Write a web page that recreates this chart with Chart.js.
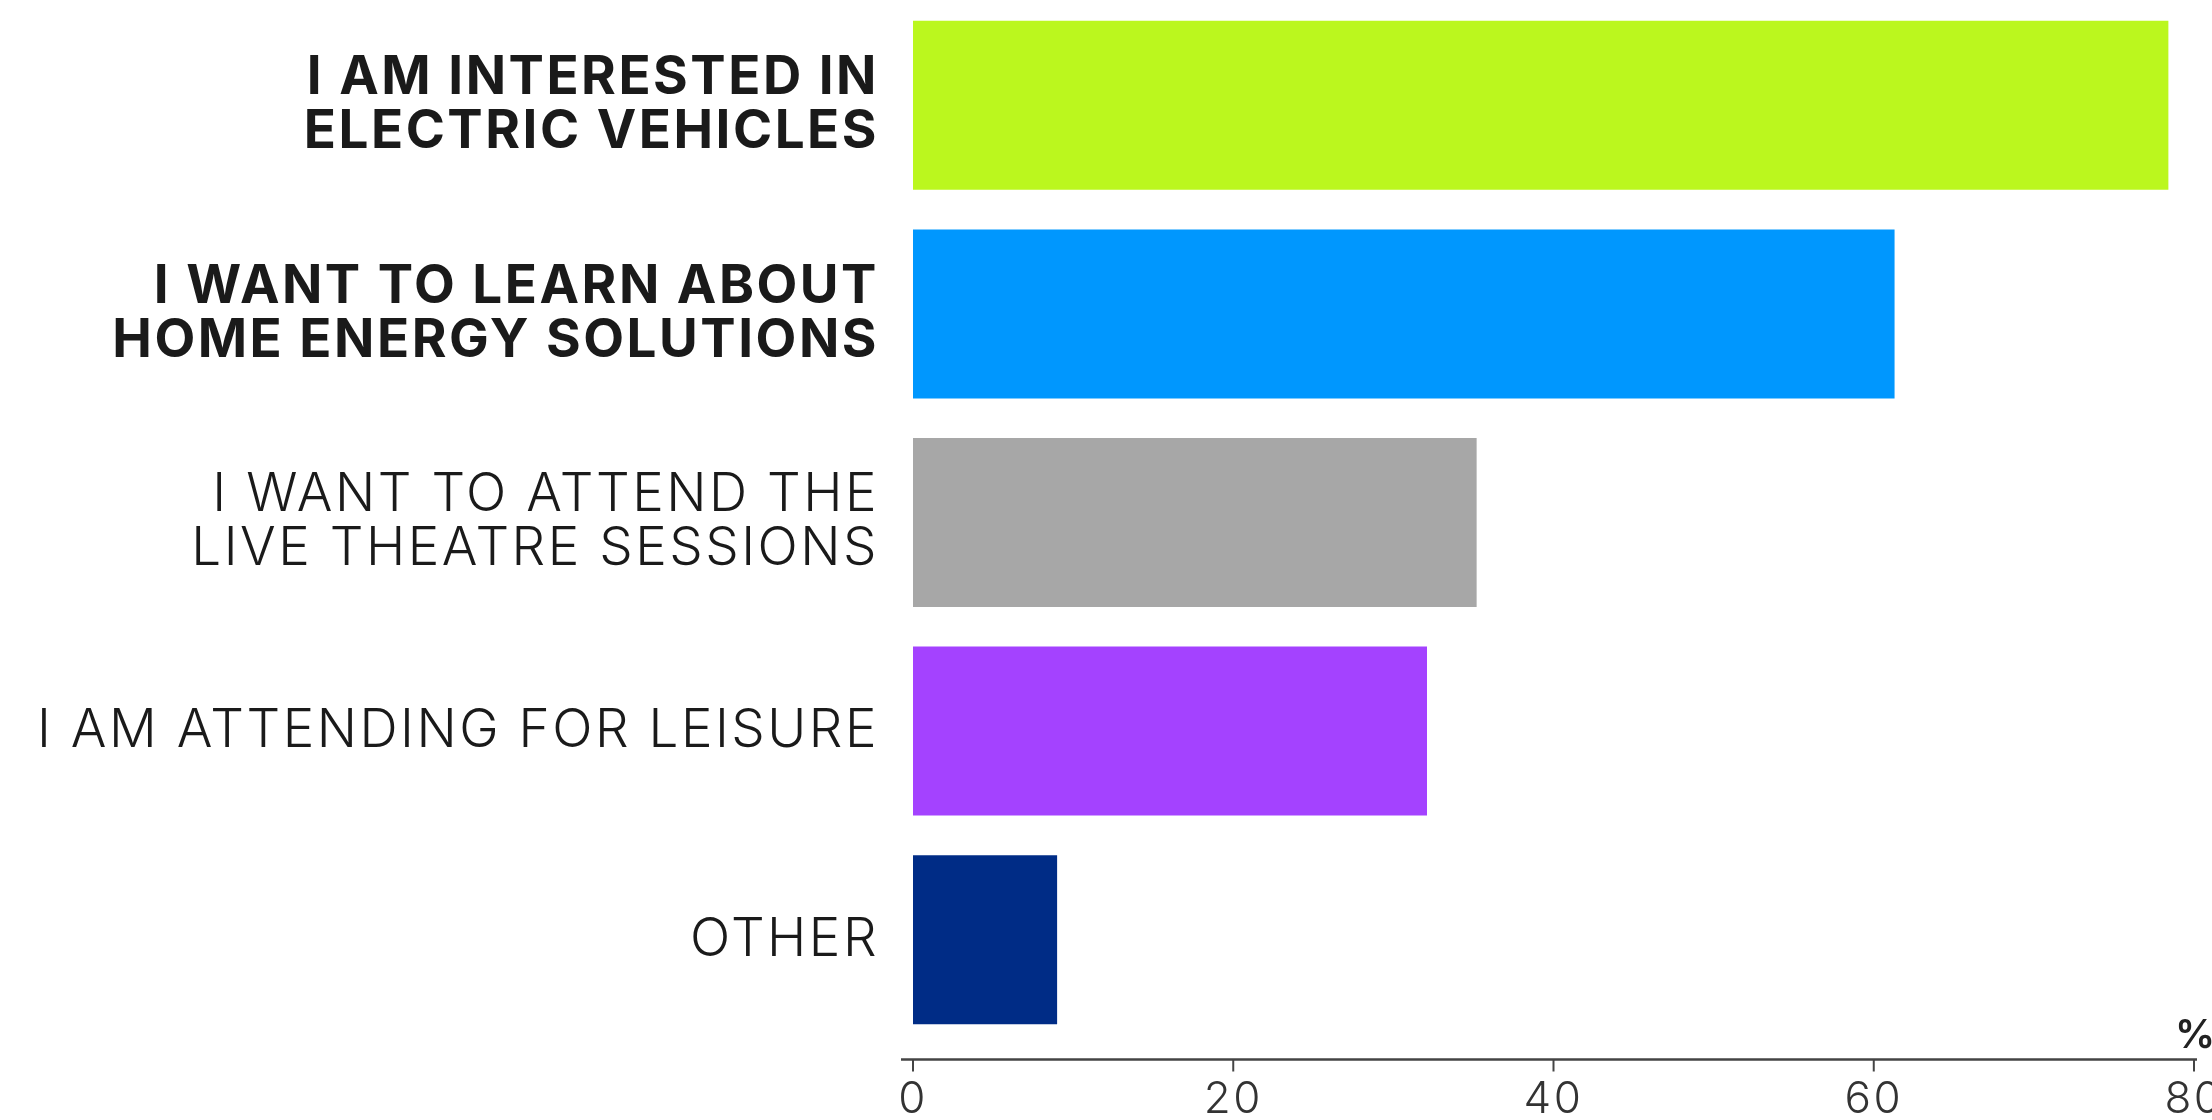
<!DOCTYPE html>
<html>
<head>
<meta charset="utf-8">
<script src="https://cdn.jsdelivr.net/npm/chart.js@4.4.1/dist/chart.umd.min.js"></script>
<style>
  html, body { margin: 0; padding: 0; background: #ffffff; }
  #wrap { width: 2212px; height: 1120px; position: relative; }
</style>
</head>
<body>
<div id="wrap"><canvas id="myChart"></canvas></div>
<script>
// reasons for attending, top to bottom
const categories = [
    ['I AM INTERESTED IN', 'ELECTRIC VEHICLES'],
    ['I WANT TO LEARN ABOUT', 'HOME ENERGY SOLUTIONS'],
    ['I WANT TO ATTEND THE', 'LIVE THEATRE SESSIONS'],
    'I AM ATTENDING FOR LEISURE',
    'OTHER'
]
const percentages = [78.4, 61.3, 35.2, 32.1, 9.0]
const barColours = ['#bbf71e', '#0097fe', '#a7a7a7', '#a442ff', '#002c86']
const boldRows = [true, true, false, false, false]
const xMin = 0
const xMax = 80
const xStep = 20

const fontName = 'Inter, "Open Sans", sans-serif'

// wider letters, the original font is a wide one
const spacing = {
    id: 'spacing',
    beforeLayout(chart) { chart.ctx.letterSpacing = '2.5px' },
    beforeDraw(chart) { chart.ctx.letterSpacing = '2.5px' }
}

// axis line sits a little below the last bar, like the original
const axisLine = {
    id: 'axisLine',
    afterDraw(chart) {
        const ctx = chart.ctx
        const x = chart.scales.x
        const y0 = chart.chartArea.bottom + 15.5
        ctx.save()
        ctx.strokeStyle = '#444'
        ctx.lineWidth = 2.5
        ctx.beginPath()
        ctx.moveTo(x.left - 12, y0)
        ctx.lineTo(x.right + 3, y0)
        ctx.stroke()
        ctx.lineWidth = 2
        x.ticks.forEach((t) => {
            const px = x.getPixelForValue(t.value)
            ctx.beginPath()
            ctx.moveTo(px, y0)
            ctx.lineTo(px, y0 + 12)
            ctx.stroke()
        })
        ctx.letterSpacing = '0px'
        ctx.fillStyle = '#222'
        ctx.font = '600 40px ' + fontName
        ctx.textAlign = 'center'
        ctx.textBaseline = 'alphabetic'
        ctx.fillText('%', x.right + 1, y0 - 12)
        ctx.restore()
    }
}

const data = {
    labels: categories,
    datasets: [{
        label: '%',
        data: percentages,
        backgroundColor: barColours,
        borderWidth: 0,
        barPercentage: 0.81,
        categoryPercentage: 1
    }]
}

const config = {
    type: 'bar',
    data: data,
    options: {
        indexAxis: 'y',
        responsive: true,
        maintainAspectRatio: false,
        animation: false,
        layout: { padding: { top: 1, right: 18, left: 0, bottom: 0 } },
        plugins: {
            legend: { display: false },
            tooltip: { enabled: false }
        },
        scales: {
            x: {
                min: xMin,
                max: xMax,
                grid: { display: false },
                border: { display: false },
                ticks: {
                    stepSize: xStep,
                    color: '#333',
                    padding: 21,
                    font: { family: fontName, size: 44, weight: '300' }
                },
                afterFit(scale) {
                    scale.height = 76
                    scale.paddingLeft = 0
                    scale.paddingRight = 0
                }
            },
            y: {
                grid: { display: false },
                border: { display: false },
                ticks: {
                    color: '#1a1a1a',
                    padding: 26,
                    font: (c) => ({
                        family: fontName,
                        size: 53,
                        lineHeight: 1.02,
                        weight: boldRows[c.index] ? '700' : '300'
                    })
                },
                afterFit(scale) {
                    scale.width = 913
                    scale.paddingTop = 0
                    scale.paddingBottom = 0
                }
            }
        }
    },
    plugins: [spacing, axisLine]
}

const ctx = document.getElementById('myChart')
new Chart(ctx, config)
</script>
</body>
</html>
